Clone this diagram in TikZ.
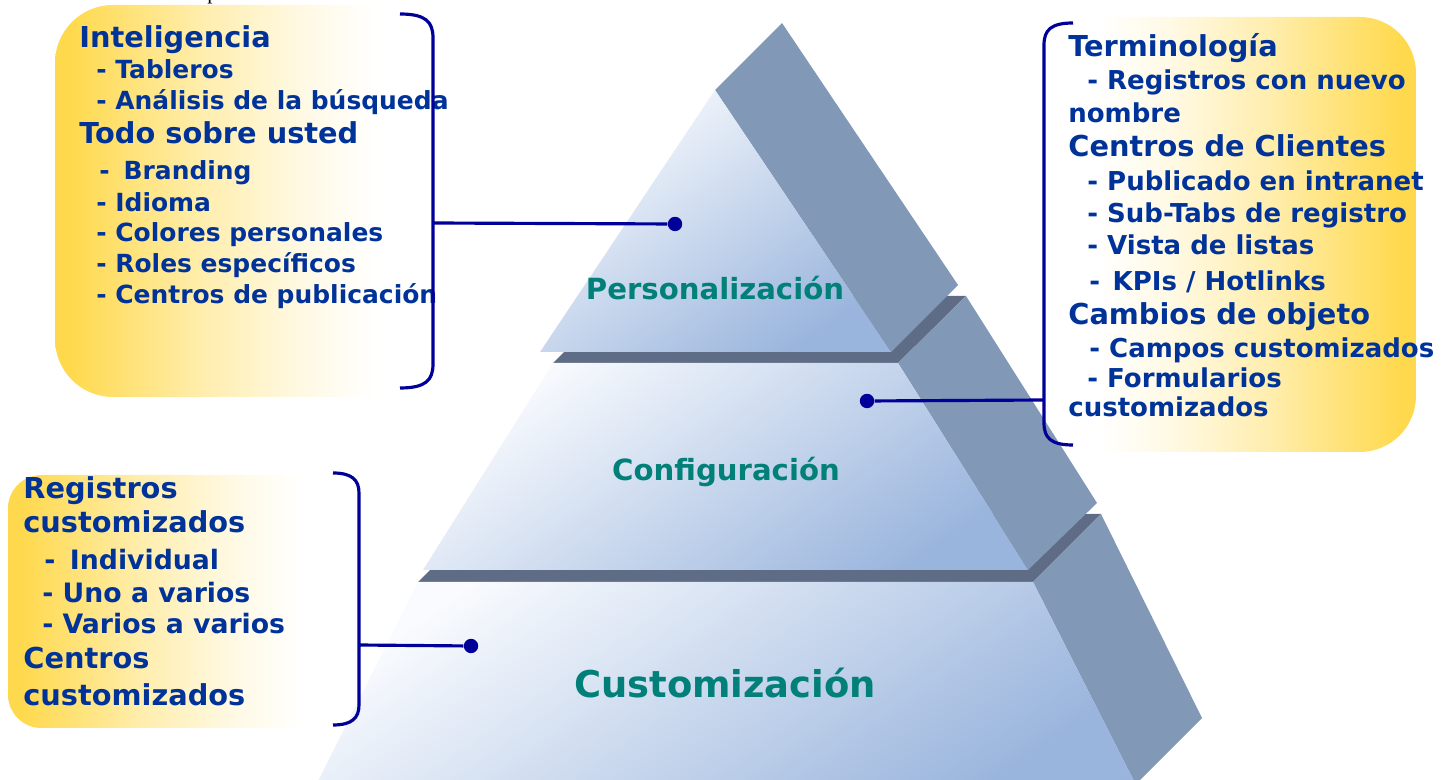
\documentclass[tikz,border=0pt]{standalone}
\usepackage{fontspec}
\setmainfont{DejaVu Sans}
\newfontfamily\timesfont{Liberation Serif}

\definecolor{txtblue}{RGB}{0,51,153}
\definecolor{lblteal}{RGB}{0,128,120}
\definecolor{brkblue}{RGB}{0,0,153}
\definecolor{boxyel}{RGB}{255,217,77}
\definecolor{sidegray}{RGB}{129,152,183}
\definecolor{ledgegray}{RGB}{94,109,133}
\definecolor{pyrlight}{RGB}{249,251,254}
\definecolor{pyrblue}{RGB}{154,181,221}

\pgfdeclarehorizontalshading{yelfade}{100bp}{color(0bp)=(boxyel); color(27bp)=(boxyel); color(45bp)=(boxyel!45!white); color(58bp)=(boxyel!15!white); color(68bp)=(white); color(100bp)=(white)}

\newcommand{\headfont}{\fontsize{16.4}{19}\selectfont\bfseries}
\newcommand{\itemfont}{\fontsize{14.2}{17}\selectfont\bfseries}
\newcommand{\ritemfont}{\fontsize{14.8}{17}\selectfont\bfseries}
\newcommand{\bitemfont}{\fontsize{15.2}{18}\selectfont\bfseries}

\tikzset{
	head/.style={anchor=base west, inner sep=0pt, text=txtblue, font=\headfont},
	item/.style={anchor=base west, inner sep=0pt, text=txtblue, font=\itemfont},
	ritem/.style={item, font=\ritemfont},
	bitem/.style={item, font=\bitemfont},
	tierlbl/.style={anchor=base, inner sep=0pt, text=lblteal, font=\fontsize{16.6}{20}\selectfont\bfseries},
	tierface/.style={top color=pyrlight, bottom color=pyrblue, shading angle=35},
	brk/.style={draw=brkblue, line width=1.8pt},
	dot/.style={circle, fill=brkblue, inner sep=0pt, minimum size=8.2pt}
}

\begin{document}
\begin{tikzpicture}[x=0.02cm, y=-0.02cm]
	\useasboundingbox (0,0) rectangle (1445,780);
	\node[anchor=base west, inner sep=0pt, font=\timesfont\fontsize{12}{14}\selectfont] (topfrag) at (207,0) {p};

	% bottom tier
	\fill[ledgegray] (418,582) -- (1033,582) -- (1101,514) -- (486,514) -- cycle;
	\fill[sidegray] (1033,582) -- (1101,514) -- (1202,718) -- (1131,789) -- (1138,789) -- cycle;
	\shade[tierface] (418,582) -- (1033,582) -- (1138,789) -- (314,789) -- cycle;
	% middle tier
	\fill[ledgegray] (553,363) -- (898,363) -- (966,296) -- (621,296) -- cycle;
	\fill[sidegray] (898,363) -- (966,296) -- (1097,503) -- (1028,570) -- cycle;
	\shade[tierface] (553,363) -- (898,363) -- (1028,570) -- (423,570) -- cycle;
	% top tier
	\fill[sidegray] (715,90) -- (782,23) -- (958,285) -- (891,352) -- cycle;
	\shade[tierface] (715,90) -- (891,352) -- (540,352) -- cycle;

	\node[tierlbl] (pers) at (715,300) {Personalización};
	\node[tierlbl] (conf) at (726,481) {Configuración};
	\node[tierlbl, font=\fontsize{21}{25}\selectfont\bfseries] (cust) at (725,698) {Customización};

	% boxes
	\shade[shading=yelfade, rounded corners=33pt] (55,5) rectangle (430,397);
	\shade[shading=yelfade, shading angle=180, rounded corners=32pt] (1045,17) rectangle (1416,452);
	\shade[shading=yelfade, rounded corners=19pt] (8,475) rectangle (350,728);

	\node[head] (intel) at (79,47.7) {Inteligencia};
	\node[item] (tabl) at (96,79) {- Tableros};
	\node[item] (anal) at (96,110) {- Análisis de la búsqueda};
	\node[head] (todo) at (79,144) {Todo sobre usted};
	\node[item] (brand) at (99,180) {-\hspace{3pt} Branding};
	\node[item] (idio) at (96,212) {- Idioma};
	\node[item] (colo) at (96,242) {- Colores personales};
	\node[item] (role) at (96,273) {- Roles específicos};
	\node[item] (publ) at (96,304) {- Centros de publicación};

	\node[head] (term) at (1068,57) {Terminología};
	\node[ritem] (regn) at (1087,90) {- Registros con nuevo};
	\node[ritem] (nomb) at (1068,123) {nombre};
	\node[head] (clie) at (1068,157) {Centros de Clientes};
	\node[ritem] (intr) at (1087,191) {- Publicado en intranet};
	\node[ritem] (subt) at (1087,223) {- Sub-Tabs de registro};
	\node[ritem] (vist) at (1087,255) {- Vista de listas};
	\node[ritem] (kpis) at (1089,291) {-\hspace{2pt} KPIs / Hotlinks};
	\node[head] (camb) at (1068,325) {Cambios de objeto};
	\node[ritem] (camp) at (1089,358) {- Campos customizados};
	\node[ritem] (form) at (1087,388) {- Formularios};
	\node[ritem] (formc) at (1068,417) {customizados};

	\node[head] (regs) at (23,499) {Registros};
	\node[head] (regsc) at (23,533) {customizados};
	\node[bitem] (indv) at (44,570) {-\hspace{3pt} Individual};
	\node[bitem] (uno) at (42,603) {- Uno a varios};
	\node[bitem] (vari) at (42,634) {- Varios a varios};
	\node[head] (cent) at (23,669) {Centros};
	\node[head] (centc) at (23,705) {customizados};

	% brackets and connectors
	\draw[brk] (400,14) .. controls (426,14) and (433,22) .. (433,38) -- (433,364) .. controls (433,380) and (426,388) .. (400,388);
	\coordinate (brkP) at (433,223);
	\node[dot] (dotP) at (675,224) {};
	\draw[brk] (brkP) -- (dotP);

	\draw[brk] (1073,23) .. controls (1051,23) and (1044,30) .. (1044,45) -- (1044,423) .. controls (1044,438) and (1051,445) .. (1073,445);
	\coordinate (brkC) at (1044,400);
	\node[dot] (dotC) at (867,401) {};
	\draw[brk] (brkC) -- (dotC);

	\draw[brk] (333,473) .. controls (352,473) and (359,480) .. (359,493) -- (359,705) .. controls (359,718) and (352,725) .. (333,725);
	\coordinate (brkU) at (359,645);
	\node[dot] (dotU) at (471,646) {};
	\draw[brk] (brkU) -- (dotU);
\end{tikzpicture}
\end{document}
